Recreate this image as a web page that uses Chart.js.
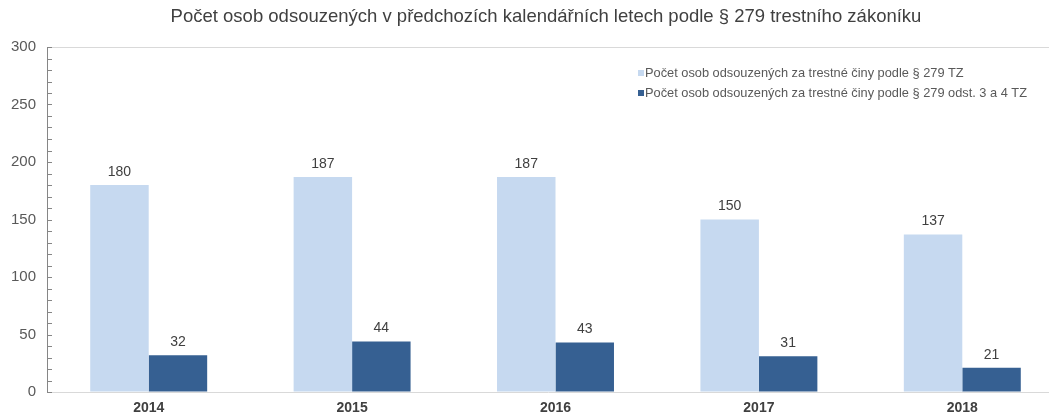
<!DOCTYPE html>
<html>
<head>
<meta charset="utf-8">
<script src="https://cdn.jsdelivr.net/npm/chart.js@4/dist/chart.umd.min.js"></script>
<style>
html,body{margin:0;padding:0;background:#fff;overflow:hidden;}
#wrap{width:1049px;height:414px;}
</style>
</head>
<body>
<div id="wrap"><canvas id="c" width="1049" height="414"></canvas></div>
<script>
const titleText = 'Počet osob odsouzených v předchozích kalendářních letech podle § 279 trestního zákoníku';
const years = ['2014', '2015', '2016', '2017', '2018'];
const seriesAllLabel = 'Počet osob odsouzených za trestné činy podle § 279 TZ';
const seriesAll = [180, 187, 187, 150, 137];
const seriesSevereLabel = 'Počet osob odsouzených za trestné činy podle § 279 odst. 3 a 4 TZ';
const seriesSevere = [32, 44, 43, 31, 21];
const yTicks = [0, 50, 100, 150, 200, 250, 300];

const FONT = '"Liberation Sans", Arial, sans-serif';
const PLOT_RIGHT = 1064; // plot area extends slightly past the canvas edge, as in the reference

const extras = {
  id: 'extras',
  afterLayout(chart) {
    const x = chart.scales.x;
    const ca = chart.chartArea;
    ca.right = PLOT_RIGHT;
    ca.width = ca.right - ca.left;
    x.right = PLOT_RIGHT;
    x.width = x.right - x.left;
    x.configure();
  },
  beforeDraw(chart) {
    const ctx = chart.ctx;
    ctx.save();
    ctx.font = '18.5px ' + FONT;
    ctx.fillStyle = '#404040';
    ctx.textAlign = 'center';
    ctx.textBaseline = 'middle';
    ctx.fillText(titleText, 546, 17);
    ctx.restore();
  },
  afterDatasetsDraw(chart) {
    const ctx = chart.ctx;
    const y = chart.scales.y;
    const ca = chart.chartArea;
    ctx.save();
    // minor ticks on y axis (inward)
    ctx.strokeStyle = '#868686';
    ctx.lineWidth = 1;
    for (let v = 0; v <= 300; v += 10) {
      const py = Math.round(y.getPixelForValue(v)) + 0.5;
      ctx.beginPath();
      ctx.moveTo(ca.left, py);
      ctx.lineTo(ca.left + 5, py);
      ctx.stroke();
    }
    // data labels
    ctx.font = '14px ' + FONT;
    ctx.fillStyle = '#404040';
    ctx.textAlign = 'center';
    ctx.textBaseline = 'bottom';
    chart.data.datasets.forEach((ds, di) => {
      const meta = chart.getDatasetMeta(di);
      meta.data.forEach((bar, i) => {
        ctx.fillText(String(ds.data[i]), bar.x, bar.y - 6);
      });
    });
    // legend
    ctx.font = '12.8px ' + FONT;
    ctx.textAlign = 'left';
    ctx.textBaseline = 'middle';
    const lx = ca.left + 591;
    chart.data.datasets.forEach((ds, di) => {
      const ly = ca.top + 26 + di * 20;
      ctx.fillStyle = ds.backgroundColor;
      ctx.fillRect(lx, ly - 3, 6, 6);
      ctx.fillStyle = '#595959';
      ctx.fillText(ds.label, lx + 7, ly);
    });
    ctx.restore();
  }
};

new Chart(document.getElementById('c'), {
  type: 'bar',
  data: {
    labels: years,
    datasets: [
      { label: seriesAllLabel, data: seriesAll, backgroundColor: '#c6d9f0', categoryPercentage: 0.575, barPercentage: 1.0 },
      { label: seriesSevereLabel, data: seriesSevere, backgroundColor: '#366092', categoryPercentage: 0.575, barPercentage: 1.0 }
    ]
  },
  options: {
    responsive: false,
    animation: false,
    devicePixelRatio: 1,
    layout: { padding: { left: 0, right: 0, top: 47, bottom: 0 } },
    plugins: {
      legend: { display: false },
      tooltip: { enabled: false },
      title: { display: false }
    },
    scales: {
      x: {
        grid: { display: false, drawTicks: false },
        border: { display: true, color: '#d9d9d9', width: 1 },
        ticks: { color: '#404040', font: { family: FONT, size: 14, weight: 'bold' }, padding: 8 },
        afterFit(s) { s.height = 22; }
      },
      y: {
        min: 0, max: 300,
        afterBuildTicks(s) { s.ticks = yTicks.map(v => ({ value: v })); },
        grid: {
          drawTicks: false,
          color: c => (c.tick && c.tick.value === 300) ? '#d9d9d9' : 'rgba(0,0,0,0)'
        },
        border: { display: true, color: '#868686', width: 1 },
        ticks: { color: '#595959', font: { family: FONT, size: 15 }, padding: 11 },
        afterFit(s) { s.width = 47; }
      }
    }
  },
  plugins: [extras]
});
</script>
</body>
</html>
